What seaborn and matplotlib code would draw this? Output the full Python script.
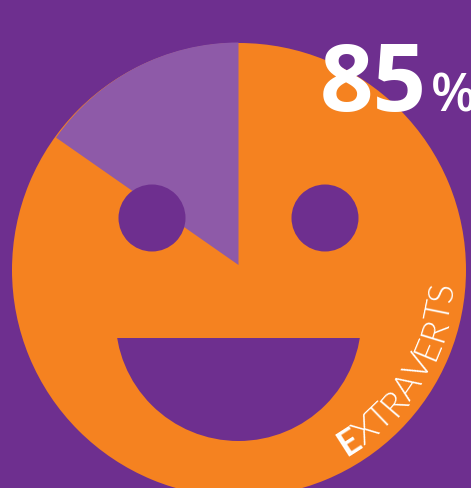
import matplotlib
matplotlib.use("Agg")
import matplotlib.pyplot as plt
import seaborn as sns
from matplotlib.patches import Circle, Rectangle
from matplotlib.textpath import TextPath
from matplotlib.font_manager import FontProperties, fontManager
import numpy as np

# data
categories = ["Introverts", "Extraverts"]
shares = [15.3, 84.7]
big_number = "85"
unit = "%"
label = "EXTRAVERTS"

PURPLE = "#6E2F8F"
ORANGE = "#F58220"
LIGHT = "#8E5AA8"
W, H = 471, 488

sns.set_theme(style="white")
plt.rcParams["font.family"] = ["Open Sans", "DejaVu Sans"]

fig = plt.figure(figsize=(W / 100, H / 100), dpi=100, facecolor=PURPLE)
ax = fig.add_axes([0, 0, 1, 1])

def Y(y):
    return H - y

ax.pie([sum(shares)], colors=[ORANGE], startangle=90,
       center=(239, Y(270)), radius=227, wedgeprops=dict(linewidth=0))
ax.pie(shares, colors=[LIGHT, (0, 0, 0, 0)], startangle=90, counterclock=True,
       center=(238.5, Y(265)), radius=222.5, wedgeprops=dict(linewidth=0))
ax.set_xlim(0, W)
ax.set_ylim(0, H)
ax.set_aspect("equal")
ax.axis("off")

# eyes
for cx in (152, 325):
    ax.add_patch(Circle((cx, Y(218)), 33.5, fc=PURPLE, ec="none", zorder=3))

# mouth
clip = Rectangle((0, 0), W, Y(338), transform=ax.transData)
mouth = Circle((238.5, Y(318)), 123, fc=PURPLE, ec="none", zorder=3)
ax.add_patch(mouth)
mouth.set_clip_path(clip)

# big number
ax.text(320, Y(111), big_number, color="white", fontsize=67.5, fontweight="bold",
        ha="left", va="baseline", zorder=5)
ax.text(431, Y(111), unit, color="white", fontsize=38, fontweight=600,
        ha="left", va="baseline", zorder=5, clip_on=False)

# curved label
cx0, cy0 = 239, 270
R = 215
fs_px = 36.0

light_files = [f.fname for f in fontManager.ttflist
               if f.fname.endswith(("Lato-Light.ttf", "Lato-Light.otf"))]
if light_files:
    fp_light = FontProperties(fname=light_files[0], size=fs_px * 0.72)
else:
    fp_light = FontProperties(family="Lato", weight="normal", size=fs_px * 0.72)
fp_bold = FontProperties(family="Lato", weight="bold", size=fs_px * 0.72)

def advance(ch, fp):
    tp = TextPath((0, 0), ch + "|", size=fs_px, prop=fp)
    tb = TextPath((0, 0), "|", size=fs_px, prop=fp)
    return tp.get_extents().x1 - tb.get_extents().x1

theta = np.radians(60)  # angle below horizontal of the start of the text
for i, ch in enumerate(label):
    fp = fp_bold if i == 0 else fp_light
    adv = advance(ch, fp) * 0.98
    th = theta - adv / (2 * R)
    x = cx0 + R * np.cos(th)
    y = cy0 + R * np.sin(th)
    ax.text(x, Y(y), ch, color="white", fontproperties=fp,
            rotation=90 - np.degrees(th), rotation_mode="anchor",
            ha="center", va="baseline", zorder=5)
    theta -= adv / R

fig.savefig("out.png", dpi=100, facecolor=PURPLE)
